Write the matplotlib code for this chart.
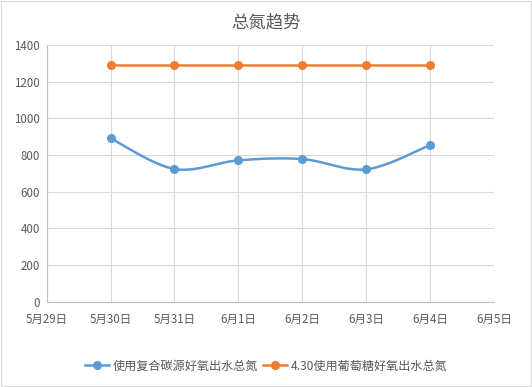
# -*- coding:utf-8 -*-
import numpy as np
import matplotlib
matplotlib.use('Agg')
import matplotlib.pyplot as plt
from matplotlib.patches import Rectangle
from matplotlib.lines import Line2D

plt.rcParams['font.family'] = ['Noto Sans CJK SC', 'DejaVu Sans']

# 数据
axis_dates = ['5月29日', '5月30日', '5月31日', '6月1日', '6月2日', '6月3日', '6月4日', '6月5日']
data_dates = ['5月30日', '5月31日', '6月1日', '6月2日', '6月3日', '6月4日']
series1_name = '使用复合碳源好氧出水总氮'
series1 = [891, 724, 771, 778, 722, 855]
series2_name = '4.30使用葡萄糖好氧出水总氮'
series2 = [1288, 1288, 1288, 1288, 1288, 1288]

blue = '#5b9bd5'
orange = '#ed7d31'
grey_text = '#595959'
grid_c = '#d9d9d9'


def smooth(x, y, n=40):
    # Excel 风格的平滑线 (Catmull-Rom 贝塞尔)
    x = np.asarray(x, float)
    y = np.asarray(y, float)
    px = np.concatenate([[x[0]], x, [x[-1]]])
    py = np.concatenate([[y[0]], y, [y[-1]]])
    xs, ys = [], []
    t = np.linspace(0, 1, n)
    for i in range(1, len(px) - 2):
        p0 = np.array([px[i], py[i]])
        p3 = np.array([px[i + 1], py[i + 1]])
        c1 = p0 + (np.array([px[i + 1], py[i + 1]]) - np.array([px[i - 1], py[i - 1]])) / 6
        c2 = p3 - (np.array([px[i + 2], py[i + 2]]) - np.array([px[i], py[i]])) / 6
        for tt in t:
            b = ((1 - tt) ** 3) * p0 + 3 * ((1 - tt) ** 2) * tt * c1 + 3 * (1 - tt) * tt ** 2 * c2 + tt ** 3 * p3
            xs.append(b[0])
            ys.append(b[1])
    return xs, ys


fig = plt.figure(figsize=(5.32, 3.87), dpi=100)
ax = fig.add_axes([0.0877, 0.22, 0.841, 0.664])

xpos = [axis_dates.index(d) for d in data_dates]

sx, sy = smooth(xpos, series1)
ax.plot(sx, sy, color=blue, lw=1.8, solid_capstyle='round', zorder=3)
ax.plot(xpos, series1, 'o', color=blue, ms=5.5, zorder=4)

ax.plot(xpos, series2, color=orange, lw=1.8, zorder=3)
ax.plot(xpos, series2, 'o', color=orange, ms=5.5, zorder=4)

ax.set_xlim(0, len(axis_dates) - 1)
ax.set_ylim(0, 1400)
ax.set_xticks(range(len(axis_dates)))
ax.set_xticklabels(axis_dates)
ax.set_yticks(range(0, 1401, 200))
ax.tick_params(length=0, labelsize=8.3, colors=grey_text)
ax.tick_params(axis='y', pad=5)
ax.tick_params(axis='x', pad=8)
ax.grid(True, color=grid_c, lw=0.8)
ax.set_axisbelow(True)
for s in ['top', 'right']:
    ax.spines[s].set_visible(False)
for s in ['left', 'bottom']:
    ax.spines[s].set_color('#bfbfbf')
    ax.spines[s].set_linewidth(0.8)

fig.text(0.5, 0.943, '总氮趋势', ha='center', va='center', fontsize=12.5, color=grey_text)

handles = [Line2D([], [], color=blue, lw=1.8, marker='o', ms=5.5),
           Line2D([], [], color=orange, lw=1.8, marker='o', ms=5.5)]
fig.legend(handles, [series1_name, series2_name], loc='center', bbox_to_anchor=(0.5, 0.054),
           ncol=2, frameon=False, fontsize=8.7, labelcolor=grey_text, handlelength=2.0,
           handletextpad=0.3, columnspacing=0.4)

fig.patches.append(Rectangle((0.002, 0.002), 0.996, 0.996, transform=fig.transFigure,
                             fill=False, edgecolor='#d9d9d9', lw=0.8))

fig.savefig('out.png', dpi=100)
